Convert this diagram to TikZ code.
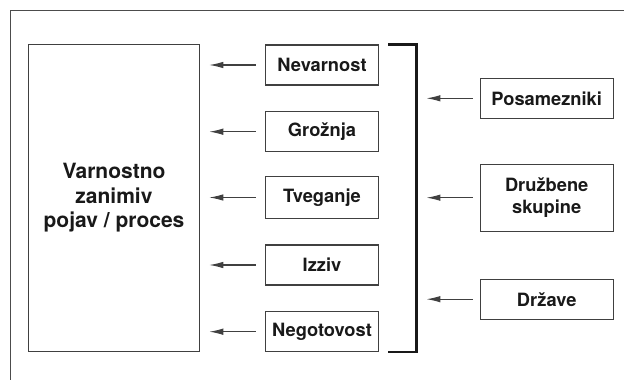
\documentclass[tikz,border=0pt]{standalone}
\usepackage{fontspec}
\setmainfont{TeX Gyre Heros}
\usetikzlibrary{arrows.meta}
\begin{document}
\begin{tikzpicture}[x=1pt,y=-1pt,
  box/.style={draw=black!75, line width=1.1pt, inner sep=0pt, font=\bfseries\fontsize{18.3}{22}\selectfont, align=center, text=black!90},
  arr/.style={draw=black!75, line width=1.1pt, -{Latex[length=14pt,width=6.5pt]}},
]
\useasboundingbox (0,0) rectangle (624,380);
\draw[black!70, line width=1pt] (10,380) -- (10,10.7) -- (624,10.7);
% big box
\node[box, minimum width=170.8pt, minimum height=307.4pt, font=\bfseries\fontsize{21}{24.5}\selectfont] (main) at (114,198) {Varnostno\\zanimiv\\pojav / proces};
% middle boxes
\node[box, minimum width=113.8pt, minimum height=40pt] (nev) at (322,65) {Nevarnost};
\node[box, minimum width=113.8pt, minimum height=40pt] (gro) at (322,131.7) {Grožnja};
\node[box, minimum width=113.8pt, minimum height=41.6pt] (tve) at (322,197.5) {Tveganje};
\node[box, minimum width=113.8pt, minimum height=40pt] (izz) at (322,265) {Izziv};
\node[box, minimum width=113.8pt, minimum height=40pt] (neg) at (322,331.7) {Negotovost};
% right boxes
\node[box, minimum width=132.9pt, minimum height=40pt] (pos) at (546.7,98.3) {Posamezniki};
\node[box, minimum width=132.9pt, minimum height=66.7pt] (dru) at (546.7,197.7) {Družbene\\skupine};
\node[box, minimum width=132.9pt, minimum height=39.7pt] (drz) at (546.7,299.2) {Države};
% bracket
\coordinate (bt) at (416.6,44.3);
\coordinate (bb) at (416.6,351.7);
\draw[black!90, line width=2.4pt] (388,44.3) -- (bt) -- (bb) -- (388,351.7);
% left arrows
\foreach \n in {nev,gro,tve,izz,neg}{
  \coordinate (s\n) at ([xshift=-9pt]\n.west);
  \coordinate (e\n) at ([xshift=-55.3pt]\n.west);
  \draw[arr] (s\n) -- (e\n);
}
% right arrows
\foreach \n in {pos,dru,drz}{
  \coordinate (s\n) at ([xshift=-6.8pt]\n.west);
  \coordinate (e\n) at ([xshift=-53.3pt]\n.west);
  \draw[arr] (s\n) -- (e\n);
}
\end{tikzpicture}
\end{document}
